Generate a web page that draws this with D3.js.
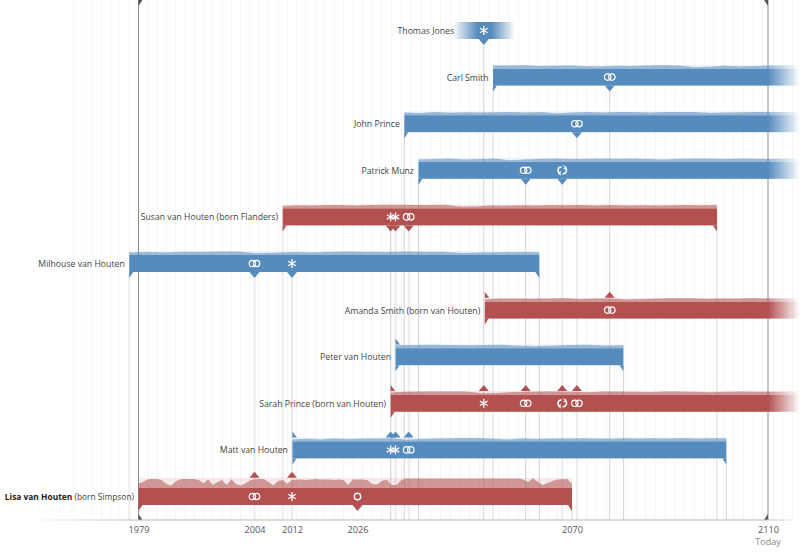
<!DOCTYPE html>
<html>
<head>
<meta charset="utf-8">
<script src="https://cdn.jsdelivr.net/npm/d3@7"></script>
<style>
  html, body { margin: 0; background: #fff; }
  svg { display: block; font-family: "Open Sans", sans-serif; }
</style>
</head>
<body>
<svg id="chart" width="800" height="553"></svg>
<script>
const people = ['Thomas Jones', 'Carl Smith', 'John Prince', 'Patrick Munz', 'Susan van Houten', 'Milhouse van Houten',
  'Amanda Smith', 'Peter van Houten', 'Sarah Prince', 'Matt van Houten', 'Lisa van Houten'];
const birthNames = ['', '', '', '', ' (born Flanders)', '', ' (born van Houten)', '', ' (born van Houten)', '', ' (born Simpson)'];
const sexes = ['m', 'm', 'm', 'm', 'f', 'm', 'f', 'm', 'f', 'm', 'f'];
const starts = [2045.6, 2053.8, 2035.6, 2038.5, 2010, 1977, 2052.1, 2033.8, 2032.8, 2012.1, 1979];
const ends = [2058.3, 2117, 2117, 2117, 2099.6, 2063.3, 2117, 2080.5, 2117, 2101.5, 2070];
const hasParents = [false, false, false, false, false, false, true, true, true, true, false];

const tickYears = [1979, 2004, 2012, 2026, 2070, 2110];

// activity above each bar, evenly spread over the life span
const carlActivity = [3.2, 3, 3.3, 2.6, 2.8, 3.2, 2.4, 2, 2.8, 2.6, 3.2, 3.3, 3.1, 1.4, 1.9, 2.8, 2.2, 2.6, 3.2, 3.2, 3];
const johnActivity = [2.8, 2, 3.2, 2.4, 3, 2.6, 3, 3.2, 2.8, 3.1, 1.8, 2.8, 3.1, 2.6, 3.2, 3.2, 2.6, 3.2, 3.3, 3.2, 2.2, 2.6, 3, 3.1, 3.1, 3.2, 3];
const patrickActivity = [2.4, 2.8, 3.2, 2.2, 2.8, 3.2, 1.6, 2.4, 3, 3.2, 2.8, 3.1, 3.2, 3, 3.2, 2.8, 2.4, 3, 3.2, 3.3, 2.8, 3.2, 3, 2.9, 3.2, 3.1];
const susanActivity = [2.4, 3.2, 3, 3.4, 3.4, 3, 3.4, 3.6, 3.6, 3.3, 3.5, 3.6, 1.8, 2, 2.8, 2.6, 3.2, 3, 3.4, 3.2, 3.4, 3, 3.3, 3, 3.2, 3, 3.2, 3.4, 3.2, 3.3];
const milhouseActivity = [2.6, 3, 2.6, 3.2, 3.2, 3.5, 3.4, 1.8, 2.2, 3, 2.4, 3.2, 3.4, 3.2, 3, 3.4, 3.2, 3.3, 2, 2.6, 2.8, 3, 2.8];
const amandaActivity = [2.2, 3, 3.2, 2.8, 3.1, 3.3, 2.6, 3.2, 3, 2.2, 2.6, 3.2, 3.4, 3.3, 2.8, 3, 3.2, 3.3, 3, 3.2, 3.1];
const peterActivity = [3, 3.2, 3.4, 3.3, 3, 3.2, 3.4, 2.4, 2, 2.8, 3.2, 3.4, 2.8, 3];
const sarahActivity = [2.4, 3, 3.2, 3.4, 3.4, 3.3, 1.6, 1.8, 2.8, 3, 3.3, 3.4, 3, 2.6, 3.2, 3.3, 3, 2.8, 3.2, 3.3, 3, 2.6, 3, 3.2, 3.1, 3, 3.2, 3.3];
const mattActivity = [2, 2.6, 1.8, 2.8, 2.4, 3, 2.8, 3.2, 1.6, 2.4, 3, 3.2, 3.4, 3.4, 2.6, 2, 2.8, 2.4, 3, 2.8, 3.2, 3, 2.6, 3.2, 3, 3.2, 2.8, 3.3, 3, 3.2, 3.1];
const lisaActivity = [4.5, 6, 8.8, 9, 9, 8, 4, 2.5, 6.5, 8.8, 9, 9, 9, 8, 4.5, 8.8, 3, 6, 8, 3, 8.8, 4, 2.5, 4.5, 7.5, 8.8,
  9, 9, 6, 2.5, 7, 8, 4, 8,
  8.5, 8.5, 8, 8.5, 9, 8.5, 8.5, 8.5, 8, 8.5, 8, 3, 8.5,
  8.5, 8.5, 8, 4, 3.5, 7, 8.5, 3, 3, 8,
  9.5, 9.5, 9.5, 9.5, 9.5, 9.5, 9.5, 9.5, 9.5, 9.5, 9.5, 9.5, 9.5, 9.5, 9.5, 9.5, 9.5, 9.5, 9.5, 9.5, 9.5, 9.5, 9.5,
  9.5, 8.5, 6, 9.8, 6, 3, 5, 7, 8.5, 8.8, 9, 4];
const activity = [[], carlActivity, johnActivity, patrickActivity, susanActivity, milhouseActivity,
  amandaActivity, peterActivity, sarahActivity, mattActivity, lisaActivity];

// [year, icon, marker side]
const thomasEvents = [[2051.9, 'star', 'down']];
const carlEvents = [[2077.7, 'rings', 'down']];
const johnEvents = [[2071, 'rings', 'down']];
const patrickEvents = [[2060.5, 'rings', 'down'], [2068, 'remarry', 'down']];
const susanEvents = [[2032.8, 'star', 'down'], [2033.8, 'star', 'down'], [2036.5, 'rings', 'down']];
const milhouseEvents = [[2004, 'rings', 'down'], [2012, 'star', 'down']];
const amandaEvents = [[2077.7, 'rings', 'up']];
const peterEvents = [];
const sarahEvents = [[2051.9, 'star', 'up'], [2060.5, 'rings', 'up'], [2068, 'remarry', 'up'], [2071, 'rings', 'up']];
const mattEvents = [[2032.8, 'star', 'up'], [2033.8, 'star', 'up'], [2036.5, 'rings', 'up']];
const lisaEvents = [[2004, 'rings', 'up'], [2012, 'star', 'up'], [2026, 'circle', 'down']];
const events = [thomasEvents, carlEvents, johnEvents, patrickEvents, susanEvents, milhouseEvents,
  amandaEvents, peterEvents, sarahEvents, mattEvents, lisaEvents];

// guide lines running from a person's row down to the axis: [year, row]
const darkGuides = [[2012, 5], [2032.8, 4], [2035.6, 2], [2038.5, 3], [2051.9, 0], [2060.5, 3], [2063.3, 5], [2070, 10], [2077.7, 1], [2080.5, 7], [2101.5, 9]];
const paleGuides = [[1977, 5], [2004, 5], [2010, 4], [2033.8, 4], [2036.5, 4], [2053.8, 1], [2068, 3], [2071, 2], [2099.6, 4]];

const colors = { m: '#568bbd', f: '#b35050' };
const barH = 17;
const axisY = 520;

const x = d3.scaleLinear()
  .domain(tickYears)
  .range([138.5, 254.5, 292, 357.5, 572, 768]);
const rowY = d3.scalePoint().domain(d3.range(people.length)).range([22, 488]);
const h = d3.scaleLinear().domain([0, 10]).range([0, 10]);

const svg = d3.select('#chart');
const defs = svg.append('defs');

const rightFade = defs.append('linearGradient').attr('id', 'rightFadeGrad')
  .attr('gradientUnits', 'userSpaceOnUse')
  .attr('x1', x(2110)).attr('x2', 800).attr('y1', 0).attr('y2', 0);
rightFade.append('stop').attr('offset', 0).attr('stop-color', '#fff');
rightFade.append('stop').attr('offset', 1).attr('stop-color', '#000');
defs.append('mask').attr('id', 'rightFade').attr('maskUnits', 'userSpaceOnUse')
  .attr('x', 0).attr('y', 0).attr('width', 800).attr('height', 553)
  .append('rect').attr('width', 800).attr('height', 553).attr('fill', 'url(#rightFadeGrad)');

const bothFade = defs.append('linearGradient').attr('id', 'bothFade');
[[0, 0], [0.4, 1], [0.62, 1], [1, 0]].forEach(d => {
  bothFade.append('stop').attr('offset', d[0]).attr('stop-color', colors.m).attr('stop-opacity', d[1]);
});

const axisFade = defs.append('linearGradient').attr('id', 'axisFade');
[[0, 0], [0.14, 1], [0.96, 1], [1, 0]].forEach(d => {
  axisFade.append('stop').attr('offset', d[0]).attr('stop-color', '#bbb').attr('stop-opacity', d[1]);
});

// faint two year grid
svg.append('g').selectAll('line')
  .data(d3.range(1957, 2117, 2))
  .enter().append('line')
  .attr('x1', d => x(d)).attr('x2', d => x(d))
  .attr('y1', 0).attr('y2', axisY)
  .attr('stroke', '#f6f6f6')
  .attr('stroke-opacity', d => Math.min(1, (x(d) - 30) / 80));

svg.append('g').selectAll('line')
  .data(paleGuides)
  .enter().append('line')
  .attr('x1', d => x(d[0])).attr('x2', d => x(d[0]))
  .attr('y1', d => rowY(d[1]) + barH).attr('y2', axisY)
  .attr('stroke', '#ececec').attr('stroke-width', 2);

svg.append('g').selectAll('line')
  .data(darkGuides)
  .enter().append('line')
  .attr('x1', d => x(d[0])).attr('x2', d => x(d[0]))
  .attr('y1', d => rowY(d[1]) + barH).attr('y2', axisY)
  .attr('stroke', '#d4d4d4');

// 1979 and today
[1979, 2110].forEach(year => {
  svg.append('line')
    .attr('x1', x(year)).attr('x2', x(year)).attr('y1', 0).attr('y2', axisY)
    .attr('stroke', '#8c8c8c');
  const dir = year === 1979 ? 1 : -1;
  svg.append('path')
    .attr('d', `M${x(year)},0H${x(year) + dir * 4}L${x(year)},6Z`)
    .attr('fill', '#555');
  svg.append('path')
    .attr('d', `M${x(year)},${axisY}H${x(year) + dir * 4}L${x(year)},${axisY - 6}Z`)
    .attr('fill', '#555');
});

svg.append('rect')
  .attr('x', 25).attr('y', axisY - 0.5).attr('width', 775).attr('height', 1)
  .attr('fill', 'url(#axisFade)');

const axis = d3.axisBottom(x)
  .tickValues(tickYears)
  .tickFormat(d3.format('d'))
  .tickSize(0);
const axisG = svg.append('g').attr('transform', `translate(0,${axisY + 3})`).call(axis);
axisG.select('.domain').remove();
axisG.selectAll('text').attr('font-size', 9.2).attr('fill', '#555').attr('font-family', '"Open Sans", sans-serif');

svg.append('text')
  .attr('x', x(2110)).attr('y', 545)
  .attr('text-anchor', 'middle').attr('font-size', 9).attr('fill', '#888')
  .text('Today');

function drawIcon(g, kind, cx, cy) {
  const icon = g.append('g').attr('transform', `translate(${cx},${cy})`)
    .attr('fill', 'none').attr('stroke', '#fff').attr('stroke-width', 1.2);
  if (kind === 'star') {
    [0, 60, 120].forEach(a => {
      icon.append('line').attr('y1', -4.4).attr('y2', 4.4)
        .attr('transform', `rotate(${a})`).attr('stroke-width', 1.3);
    });
  } else if (kind === 'rings') {
    icon.append('circle').attr('cx', -2.1).attr('r', 3.2);
    icon.append('circle').attr('cx', 2.1).attr('r', 3.2);
  } else if (kind === 'circle') {
    icon.append('circle').attr('r', 3.2).attr('stroke-width', 1.4);
  } else {
    const arc = d3.arc().innerRadius(3.4).outerRadius(3.4);
    icon.attr('stroke-width', 1.5);
    icon.append('path').attr('d', arc({ startAngle: -2.9, endAngle: 0.1 })).attr('transform', 'translate(-0.8,0)');
    icon.append('path').attr('d', arc({ startAngle: 0.5, endAngle: 3.3 })).attr('transform', 'translate(0.8,0)');
    icon.append('path').attr('d', 'M1.2,-4.8L4,-3L1.2,-1.2').attr('stroke-width', 1);
    icon.append('path').attr('d', 'M-1.2,4.8L-4,3L-1.2,1.2').attr('stroke-width', 1);
  }
}

const area = d3.area().curve(d3.curveLinear);

people.forEach((name, i) => {
  const top = rowY(i);
  const bottom = top + barH;
  const color = colors[sexes[i]];
  const faded = i === 0;
  const open = ends[i] > 2110;
  const last = i === people.length - 1;
  const g = svg.append('g');
  if (open) g.attr('mask', 'url(#rightFade)');

  const x0 = x(starts[i]);
  const x1 = x(ends[i]);
  const series = activity[i];
  const band = series.length ? d3.max(series) + 0.4 : 0;

  if (series.length) {
    const yearAt = d3.scaleLinear().domain([0, series.length - 1]).range([starts[i], ends[i]]);
    g.append('rect')
      .attr('x', x0).attr('y', top - h(band)).attr('width', x1 - x0).attr('height', h(band))
      .attr('fill', color).attr('opacity', 0.12);
    area.x((d, k) => x(yearAt(k))).y0(top).y1(d => top - h(d));
    g.append('path').datum(series)
      .attr('d', area)
      .attr('fill', color).attr('opacity', 0.55);
  }

  g.append('rect')
    .attr('x', x0).attr('y', top).attr('width', x1 - x0).attr('height', barH)
    .attr('fill', faded ? 'url(#bothFade)' : color);

  if (!faded) {
    g.append('path').attr('d', `M${x0},${bottom}h4L${x0},${bottom + 6}Z`).attr('fill', color);
    if (!open) g.append('path').attr('d', `M${x1},${bottom}h-4L${x1},${bottom + 6}Z`).attr('fill', color);
    if (hasParents[i]) {
      g.append('path').attr('d', `M${x0},${top - h(band)}h4.5L${x0},${top - h(band) - 6}Z`).attr('fill', color);
    }
  }

  events[i].forEach(e => {
    const ex = x(e[0]);
    if (e[2] === 'down') {
      g.append('path').attr('d', `M${ex - 5},${bottom}h10L${ex},${bottom + 6}Z`).attr('fill', color);
    } else {
      g.append('path').attr('d', `M${ex - 5},${top - h(band)}h10L${ex},${top - h(band) - 6}Z`).attr('fill', color);
    }
    drawIcon(g, e[1], ex, top + barH / 2);
  });

  const label = svg.append('text')
    .attr('x', faded ? x0 + 1 : x0 - 4.5).attr('y', top + barH / 2 + 3.4)
    .attr('text-anchor', 'end').attr('font-size', last ? 8.4 : 8.7).attr('fill', '#444');
  label.append('tspan')
    .attr('font-weight', last ? 700 : 400)
    .attr('fill', last ? '#222' : '#444')
    .text(name);
  label.append('tspan').text(birthNames[i]);
});
</script>
</body>
</html>
